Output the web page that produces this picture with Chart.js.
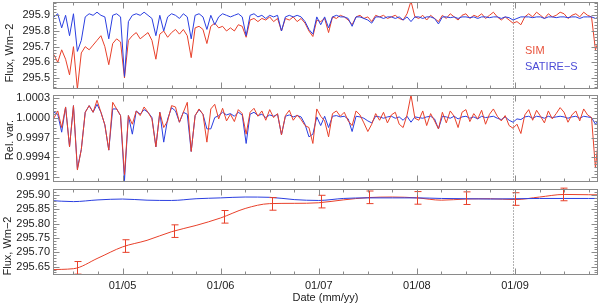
<!DOCTYPE html>
<html>
<head>
<meta charset="utf-8">
<script src="https://cdn.jsdelivr.net/npm/chart.js@4.4.0/dist/chart.umd.min.js"></script>
<style>
html, body { margin: 0; padding: 0; background: #fff; }
#wrap { position: relative; width: 600px; height: 305px; }
#wrap canvas { position: absolute; left: 0; top: 0; }
</style>
</head>
<body>
<div id="wrap">
	<canvas id="c1" width="600" height="305"></canvas>
	<canvas id="c2" width="600" height="305"></canvas>
	<canvas id="c3" width="600" height="305"></canvas>
</div>
<script>
// time grid of the two upper panels (decimal years)
var dates = [];
for (let i = 0; i < 140; i++) dates.push(+(2004.3 + 0.04 * i).toFixed(2));

// top panel: flux, W m-2
var simFlux = [
	295.65, 295.60, 295.68, 295.62, 295.52, 295.70, 295.43, 295.66, 295.70, 295.68,
	295.71, 295.74, 295.77, 295.70, 295.585, 295.72, 295.75, 295.73, 295.50, 295.74,
	295.77, 295.79, 295.75, 295.77, 295.79, 295.74, 295.62, 295.78, 295.80, 295.76,
	295.79, 295.81, 295.78, 295.81, 295.77, 295.63, 295.82, 295.83, 295.81, 295.72,
	295.83, 295.85, 295.82, 295.83, 295.80, 295.82, 295.80, 295.84, 295.83, 295.76,
	295.87, 295.88, 295.86, 295.88, 295.87, 295.89, 295.86, 295.88, 295.80, 295.88,
	295.87, 295.89, 295.86, 295.88, 295.85, 295.80, 295.765, 295.87, 295.86, 295.88,
	295.79, 295.89, 295.88, 295.90, 295.89, 295.87, 295.84, 295.89, 295.90, 295.88,
	295.89, 295.86, 295.90, 295.89, 295.90, 295.88, 295.89, 295.90, 295.88, 295.87,
	295.91, 295.99, 295.89, 295.88, 295.90, 295.87, 295.90, 295.88, 295.86, 295.90,
	295.88, 295.91, 295.89, 295.87, 295.90, 295.91, 295.88, 295.90, 295.89, 295.91,
	295.88, 295.90, 295.92, 295.89, 295.87, 295.89, 295.87, 295.85, 295.86, 295.84,
	295.89, 295.91, 295.89, 295.92, 295.90, 295.88, 295.91, 295.89, 295.90, 295.92,
	295.91, 295.88, 295.90, 295.91, 295.89, 295.92, 295.90, 295.89, 295.68, 295.75,
];
var satireFlux = [
	295.89, 295.91, 295.82, 295.90, 295.77, 295.91, 295.67, 295.74, 295.89, 295.91,
	295.90, 295.92, 295.90, 295.89, 295.75, 295.90, 295.91, 295.89, 295.51, 295.86,
	295.90, 295.91, 295.90, 295.92, 295.90, 295.88, 295.77, 295.90, 295.80, 295.89,
	295.91, 295.90, 295.88, 295.91, 295.89, 295.75, 295.90, 295.91, 295.89, 295.81,
	295.90, 295.84, 295.89, 295.91, 295.90, 295.89, 295.90, 295.91, 295.89, 295.77,
	295.90, 295.91, 295.89, 295.90, 295.88, 295.90, 295.89, 295.90, 295.80, 295.89,
	295.90, 295.89, 295.90, 295.89, 295.86, 295.81, 295.78, 295.89, 295.84, 295.89,
	295.82, 295.89, 295.90, 295.89, 295.89, 295.88, 295.83, 295.89, 295.89, 295.88,
	295.87, 295.85, 295.89, 295.89, 295.88, 295.89, 295.89, 295.88, 295.89, 295.87,
	295.89, 295.86, 295.89, 295.89, 295.88, 295.89, 295.89, 295.88, 295.845, 295.89,
	295.89, 295.885, 295.89, 295.88, 295.89, 295.89, 295.885, 295.89, 295.88, 295.89,
	295.89, 295.885, 295.89, 295.89, 295.88, 295.89, 295.885, 295.87, 295.88, 295.89,
	295.89, 295.89, 295.885, 295.89, 295.89, 295.88, 295.89, 295.89, 295.885, 295.89,
	295.89, 295.885, 295.89, 295.89, 295.88, 295.89, 295.89, 295.89, 295.88, 295.89,
];

// middle panel: relative variation
var simRel = [
	0.99999, 1.00010, 0.99985, 1.00016, 0.99956, 1.00018, 0.99921, 0.99952, 1.00008, 1.00018,
	1.00008, 1.00026, 1.00008, 0.99989, 0.99951, 1.00023, 1.00013, 1.00003, 0.99914, 1.00003,
	0.99990, 1.00010, 1.00003, 1.00016, 1.00008, 0.99998, 0.99956, 1.00008, 0.99985, 0.99995,
	1.00018, 1.00016, 0.99993, 1.00008, 1.00023, 0.99949, 1.00003, 1.00013, 1.00005, 0.99963,
	1.00013, 1.00020, 0.99998, 1.00014, 0.99995, 1.00005, 0.99994, 1.00012, 1.00006, 0.99975,
	1.00008, 1.00014, 1.00002, 1.00010, 0.99996, 1.00012, 1.00000, 1.00006, 0.99974, 1.00003,
	1.00011, 0.99996, 1.00004, 0.99997, 0.99988, 0.99985, 0.99961, 1.00013, 1.00002, 0.99995,
	0.99971, 1.00006, 1.00010, 1.00002, 1.00008, 0.99995, 0.99988, 1.00010, 1.00004, 0.99992,
	0.99979, 0.99990, 1.00006, 0.99996, 1.00008, 0.99992, 1.00004, 1.00008, 0.99990, 0.99985,
	1.00004, 1.00034, 0.99999, 0.99996, 1.00010, 0.99988, 1.00006, 0.99995, 0.99983, 1.00008,
	0.99992, 1.00010, 1.00002, 0.99985, 1.00008, 1.00012, 0.99994, 1.00006, 0.99998, 1.00011,
	0.99990, 1.00005, 1.00013, 1.00002, 0.99995, 1.00003, 0.99988, 0.99984, 0.99990, 0.99976,
	1.00004, 1.00012, 0.99996, 1.00011, 1.00002, 0.99992, 1.00010, 0.99998, 1.00006, 1.00015,
	1.00008, 0.99993, 1.00004, 1.00010, 0.99995, 1.00013, 1.00004, 1.00000, 0.99924, 0.99983,
];
var satireRel = [
	1.00008, 1.00005, 0.99978, 1.00016, 0.99956, 1.00018, 0.99923, 0.99952, 1.00008, 1.00018,
	1.00008, 1.00020, 1.00008, 0.99989, 0.99951, 1.00013, 1.00013, 1.00003, 0.99905, 1.00003,
	0.99975, 1.00010, 1.00005, 1.00012, 1.00008, 1.00000, 0.99956, 1.00008, 0.99963, 0.99998,
	1.00015, 1.00010, 0.99993, 1.00008, 1.00005, 0.99949, 1.00003, 1.00012, 1.00005, 0.99983,
	0.99983, 1.00000, 1.00003, 1.00008, 1.00004, 1.00006, 1.00002, 1.00008, 1.00004, 0.99961,
	1.00005, 1.00008, 1.00003, 1.00005, 1.00000, 1.00004, 1.00002, 1.00005, 0.99974, 1.00002,
	1.00004, 1.00001, 1.00003, 1.00001, 0.99990, 0.99971, 0.99975, 1.00001, 0.99988, 1.00002,
	0.99985, 1.00002, 1.00003, 1.00001, 1.00002, 0.99998, 0.99979, 1.00002, 1.00001, 0.99999,
	0.99995, 0.99992, 1.00002, 1.00001, 0.99999, 1.00001, 1.00002, 0.99999, 1.00001, 0.99996,
	1.00002, 0.99993, 1.00001, 1.00000, 0.99999, 1.00001, 1.00002, 0.99998, 0.99983, 1.00002,
	1.00001, 0.99999, 1.00002, 0.99998, 1.00001, 1.00002, 0.99999, 1.00001, 0.99998, 1.00002,
	1.00000, 1.00001, 1.00002, 0.99999, 0.99997, 1.00001, 0.99996, 0.99993, 0.99998, 0.99997,
	1.00001, 1.00002, 0.99999, 1.00002, 1.00001, 0.99999, 1.00002, 1.00000, 1.00001, 1.00002,
	1.00001, 0.99999, 1.00001, 1.00002, 0.99999, 1.00002, 1.00001, 1.00000, 0.99990, 0.99998,
];

// bottom panel: smoothed flux with SIM error bars
var smoothYears = [
	2004.25, 2004.5, 2004.75, 2005.0, 2005.25, 2005.5, 2005.75, 2006.0, 2006.25, 2006.5, 2006.75, 2007.0,
	2007.25, 2007.5, 2007.75, 2008.0, 2008.25, 2008.5, 2008.75, 2009.0, 2009.25, 2009.5, 2009.75, 2010.0,
];
var simSmooth = [
	295.640, 295.643, 295.680, 295.719, 295.742, 295.772, 295.794, 295.820, 295.853, 295.870, 295.871, 295.873,
	295.883, 295.891, 295.893, 295.890, 295.882, 295.886, 295.887, 295.884, 295.893, 295.902, 295.901, 295.900,
];
var satireSmooth = [
	295.881, 295.877, 295.883, 295.886, 295.882, 295.881, 295.887, 295.890, 295.893, 295.892, 295.884, 295.881,
	295.888, 295.890, 295.890, 295.890, 295.888, 295.887, 295.886, 295.887, 295.888, 295.888, 295.888, 295.888,
];
var errYears = [2004.54, 2005.03, 2005.52, 2006.03, 2006.52, 2007.02, 2007.51, 2008.0, 2008.5, 2009.0, 2009.49];
var errValues = [295.646, 295.722, 295.774, 295.824, 295.869, 295.877, 295.892, 295.890, 295.889, 295.886, 295.902];
var errSigma = 0.022;

// axis ticks
var yearTicks = [2005, 2006, 2007, 2008, 2009];
var fluxTicks = [295.5, 295.6, 295.7, 295.8, 295.9];
var relTicks = [0.9991, 0.9994, 0.9997, 1.0, 1.0003];
var smoothTicks = [295.65, 295.7, 295.75, 295.8, 295.85, 295.9];
var markYear = 2008.975;

var xMin = 2004.2915, xMax = 2009.846;
var RED = "#e8402a", BLUE = "#2a3ee0", FRAME = "#8a8a8a", TEXT = "#222";
var font = { family: "'Liberation Sans', Arial, sans-serif", size: 11 };
Chart.defaults.font = font;
Chart.defaults.color = TEXT;

function serie(xs, ys, color, extra) {
	return Object.assign(
		{
			data: xs.map((x, i) => ({ x: x, y: ys[i] })),
			borderColor: color,
			borderWidth: 1,
			pointRadius: 0,
			tension: 0,
			fill: false,
		},
		extra || {}
	);
}

function yAxis(min, max, ticks, digits) {
	return {
		min: min,
		max: max,
		grid: { display: false, drawTicks: false },
		border: { display: false },
		ticks: { padding: 3, color: TEXT, font: font, callback: (v) => Number(v).toFixed(digits) },
		afterBuildTicks: (s) => {
			s.ticks = ticks.map((v) => ({ value: v }));
		},
		afterFit: (s) => {
			s.width = 53;
			s.paddingTop = 0;
			s.paddingBottom = 0;
		},
	};
}

function xAxis(show) {
	return {
		type: "linear",
		min: xMin,
		max: xMax,
		display: show,
		grid: { display: false, drawTicks: false },
		border: { display: false },
		ticks: {
			padding: 4,
			maxRotation: 0,
			color: TEXT,
			font: font,
			callback: (v) => "01/" + String(Math.round(v) % 100).padStart(2, "0"),
		},
		afterBuildTicks: (s) => {
			s.ticks = yearTicks.map((v) => ({ value: v }));
		},
		afterFit: (s) => {
			if (!show) return;
			s.height = 30;
			s.paddingLeft = 0;
			s.paddingRight = 0;
		},
		title: { display: show, text: "Date (mm/yy)", padding: { top: 0, bottom: 0 }, color: TEXT, font: font },
	};
}

// frame, inward ticks, dotted marker, side title, legend, error bars
function decor(cfg) {
	return {
		id: "decor",
		afterDatasetsDraw(chart) {
			const ctx = chart.ctx;
			const a = chart.chartArea;
			const x = chart.scales.x, y = chart.scales.y;
			const L = Math.round(a.left) + 0.5, R = Math.round(a.right) - 0.5;
			const T = Math.round(a.top) + 0.5, B = Math.round(a.bottom) - 0.5;
			ctx.save();
			ctx.lineWidth = 1;

			if (cfg.errors) {
				ctx.strokeStyle = RED;
				ctx.beginPath();
				errYears.forEach((yr, i) => {
					const px = Math.round(x.getPixelForValue(yr)) + 0.5;
					const y1 = y.getPixelForValue(errValues[i] + errSigma);
					const y2 = y.getPixelForValue(errValues[i] - errSigma);
					ctx.moveTo(px, y1); ctx.lineTo(px, y2);
					ctx.moveTo(px - 3, y1); ctx.lineTo(px + 4, y1);
					ctx.moveTo(px - 3, y2); ctx.lineTo(px + 4, y2);
				});
				ctx.stroke();
			}

			ctx.strokeStyle = FRAME;
			// dotted marker line
			const mx = Math.round(x.getPixelForValue(markYear)) + 0.5;
			ctx.strokeStyle = "#666";
			ctx.setLineDash([1, 2]);
			ctx.beginPath();
			ctx.moveTo(mx, T); ctx.lineTo(mx, B);
			ctx.stroke();
			ctx.setLineDash([]);
			ctx.strokeStyle = FRAME;

			ctx.strokeRect(L, T, R - L, B - T);
			ctx.beginPath();
			// y ticks, both sides
			const k0 = Math.ceil(y.min / cfg.yMinor - 1e-6), k1 = Math.floor(y.max / cfg.yMinor + 1e-6);
			for (let k = k0; k <= k1; k++) {
				const v = k * cfg.yMinor;
				const major = cfg.yTicks.some((t) => Math.abs(t - v) < cfg.yMinor / 10);
				const len = major ? 6 : 3;
				const py = Math.round(y.getPixelForValue(v)) + 0.5;
				ctx.moveTo(L, py); ctx.lineTo(L + len, py);
				ctx.moveTo(R, py); ctx.lineTo(R - len, py);
			}
			// x ticks, top and bottom
			for (let q = Math.ceil(xMin * 4); q <= Math.floor(xMax * 4); q++) {
				const v = q / 4;
				const len = q % 4 === 0 ? 6 : 3;
				const px = Math.round(x.getPixelForValue(v)) + 0.5;
				ctx.moveTo(px, B); ctx.lineTo(px, B - len);
				ctx.moveTo(px, T); ctx.lineTo(px, T + len);
			}
			ctx.stroke();

			ctx.font = "11px 'Liberation Sans', Arial, sans-serif";
			ctx.textBaseline = "middle";
			if (cfg.legend) {
				ctx.textAlign = "left";
				cfg.legend.forEach((it) => {
					ctx.fillStyle = it.color;
					ctx.fillText(it.text, it.x, it.y);
				});
			}
			ctx.fillStyle = TEXT;
			ctx.translate(cfg.titleX, cfg.titleY);
			ctx.rotate(-Math.PI / 2);
			ctx.textAlign = "center";
			ctx.fillText(cfg.title, 0, 0);
			ctx.restore();
		},
	};
}

function panel(id, datasets, yScale, padTop, padBottom, showX, cfg) {
	return new Chart(document.getElementById(id), {
		type: "line",
		data: { datasets: datasets },
		options: {
			responsive: false,
			animation: false,
			layout: { padding: { left: 0, right: 2, top: padTop, bottom: padBottom } },
			plugins: { legend: { display: false }, tooltip: { enabled: false } },
			scales: { x: xAxis(showX), y: yScale },
		},
		plugins: [decor(cfg)],
	});
}

panel(
	"c1",
	[serie(dates, satireFlux, BLUE), serie(dates, simFlux, RED)],
	yAxis(295.43, 295.985, fluxTicks, 1),
	2, 216, false,
	{
		yTicks: fluxTicks, yMinor: 0.02, title: "Flux, Wm\u22122", titleX: 10, titleY: 53,
		legend: [
			{ text: "SIM", color: "#e8533c", x: 525, y: 51 },
			{ text: "SATIRE\u2212S", color: "#4b4bd6", x: 525, y: 67 },
		],
	}
);

panel(
	"c2",
	[serie(dates, simRel, RED), serie(dates, satireRel, BLUE)],
	yAxis(0.99903, 1.00034, relTicks, 4),
	95, 123, false,
	{ yTicks: relTicks, yMinor: 0.00005, title: "Rel. var.", titleX: 10, titleY: 140 }
);

panel(
	"c3",
	[
		serie(smoothYears, satireSmooth, BLUE, { cubicInterpolationMode: "monotone" }),
		serie(smoothYears, simSmooth, RED, { cubicInterpolationMode: "monotone" }),
	],
	yAxis(295.621, 295.921, smoothTicks, 2),
	189, 0, true,
	{ yTicks: smoothTicks, yMinor: 0.01, title: "Flux, Wm\u22122", titleX: 8, titleY: 246, errors: true }
);
</script>
</body>
</html>
